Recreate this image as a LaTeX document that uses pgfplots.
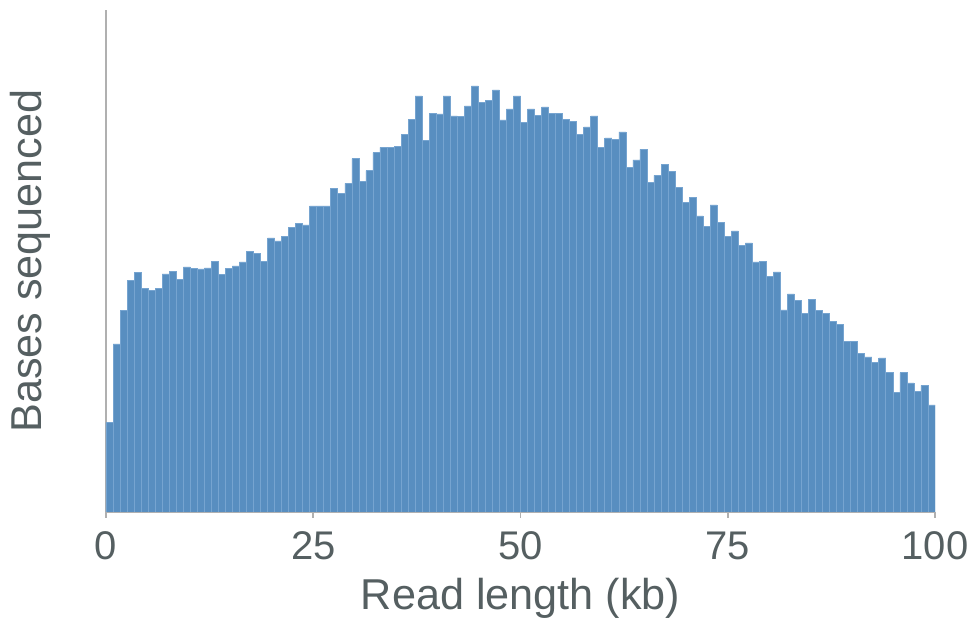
\documentclass[border=0pt]{standalone}
\usepackage{pgfplots}
\pgfplotsset{compat=1.18}
\usepackage{fontspec}
\setmainfont{Liberation Sans}
\definecolor{barblue}{RGB}{88,142,192}
\definecolor{barline}{RGB}{118,164,208}
\definecolor{axgray}{RGB}{176,176,176}
\definecolor{txt}{RGB}{85,95,97}
\begin{document}
\begin{tikzpicture}
\useasboundingbox (-53pt,-54.5pt) rectangle (432pt,256pt);
\begin{axis}[
  scale only axis, width=414.5pt, height=251pt,
  xmin=0, xmax=118, ymin=0, ymax=502,
  axis x line*=bottom, axis y line*=left,
  axis line style={axgray, line width=1pt},
  xtick={0,29.5,59,88.5,118}, xticklabels={0,25,50,75,100},
  ytick=\empty,
  tick align=outside, major tick length=3pt,
  tick style={axgray, line width=0.8pt},
  xticklabel style={font=\fontsize{20}{24}\selectfont, text=txt, anchor=base, yshift=-20.5pt},
  xlabel={Read length (kb)},
  ylabel={Bases sequenced},
  x label style={font=\fontsize{21.6}{26}\selectfont, text=txt, at={(axis description cs:0.5,0)}, anchor=center, yshift=-43pt},
  y label style={font=\fontsize{21.6}{26}\selectfont, text=txt, at={(axis description cs:-0.0917,0.5)}, anchor=center},
  clip=true,
]
\addplot[ybar interval, fill=barblue, draw=barline, line width=0.35pt] table {
x y
0 89.3
1 168
2 201.3
3 231.3
4 239.3
5 223.3
6 221.3
7 223.3
8 238
9 240.3
10 232.7
11 245
12 243.7
13 243
14 244
15 250.3
16 237.3
17 243.3
18 246
19 250
20 260.7
21 258.7
22 250.5
23 274
24 271
25 275.3
26 284.3
27 288.7
28 287
29 306
30 306
31 306
32 323.3
33 318.7
34 328.5
35 353.3
36 330.5
37 341.3
38 359.3
39 364.5
40 364.5
41 365.3
42 377.3
43 392.7
44 416
45 371.3
46 398.7
47 398
48 416
49 396
50 395.3
51 406
52 426
53 409.3
54 411.3
55 422
56 392
57 403
58 416
59 389.7
60 403
61 396.7
62 405
63 398.7
64 398.3
65 392.3
66 390.3
67 377.3
68 385
69 396
70 364.3
71 374
72 372.5
73 380
74 344.7
75 352
76 362.7
77 329.3
78 336.7
79 347.7
80 340.7
81 324.7
82 309.3
83 314.7
84 296
85 285.3
86 307
87 289.7
88 275.3
89 281
90 266.3
91 269
92 250
93 250.3
94 235.3
95 240
96 202
97 218
98 211.3
99 198.7
100 212.3
101 201.7
102 198.7
103 190.3
104 187.3
105 170.3
106 170.3
107 158.3
108 155
109 149.3
110 154
111 139.3
112 119.3
113 139.3
114 129
115 120.3
116 126.7
117 107
118 107
};
\end{axis}
\end{tikzpicture}
\end{document}
